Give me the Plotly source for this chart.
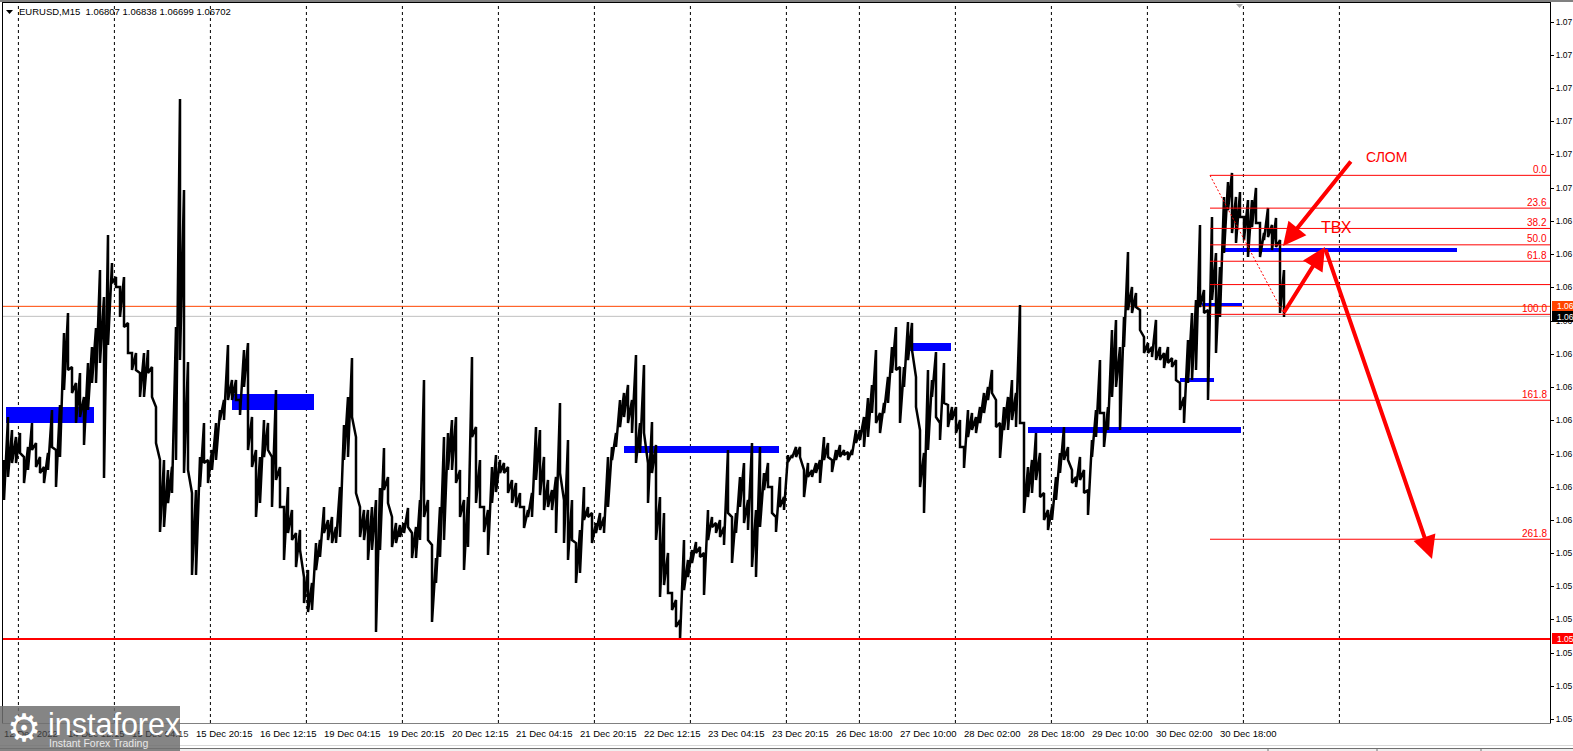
import plotly.graph_objects as go

# ---------- data: 15-minute EURUSD, points above 1.05000, one high/low pair per 4 bars ----------
bars = list(range(4, 1285, 4))
high_pts = [1267,1396,1357,1336,1348,1276,1306,1378,1318,1276,1246,1288,1417,1297,1432,1648,1708,1546,1498,1528,
1456,1558,1606,1663,1837,1756,1942,1858,1816,1786,1816,1678,1588,1588,1528,1588,1597,1546,1426,1267,
1267,1237,1246,1666,2350,2077,1561,1168,1177,1276,1378,1267,1297,1378,1417,1447,1612,1507,1507,1447,
1597,1618,1396,1297,1276,1387,1378,1276,1477,1246,1126,1186,1117,1048,1057,916,937,898,1018,1027,
1126,1087,1096,1066,1186,1372,1456,1573,1336,1126,1117,1117,1126,1147,1183,1303,1216,1096,1078,1072,
1078,1123,1048,1066,1147,1507,1147,1012,973,1126,1336,1348,1387,1396,1237,1147,1156,1576,1366,1267,
1126,1117,1246,1282,1267,1258,1246,1207,1198,1168,1126,1117,1168,1366,1357,1276,1207,1177,1216,1438,
1147,1327,1147,1018,1057,1186,1126,1108,1078,1108,1096,1276,1306,1348,1447,1468,1492,1447,1582,1378,
1552,1258,1381,1312,1156,1108,988,868,847,787,1027,967,997,1021,1006,988,1117,1096,1078,1087,
1066,1297,1096,1108,1216,1258,1147,1318,1117,1306,1228,1258,1186,1096,1216,1156,1282,1282,1306,1306,
1237,1258,1237,1258,1267,1336,1318,1267,1297,1312,1297,1291,1297,1357,1357,1396,1453,1492,1597,1408,
1438,1516,1606,1666,1546,1546,1681,1678,1516,1357,1288,1537,1507,1591,1378,1558,1432,1426,1426,1387,
1306,1417,1408,1396,1426,1468,1486,1537,1447,1378,1426,1456,1507,1468,1732,1378,1246,1267,1348,1288,
1168,1117,1126,1216,1288,1366,1306,1237,1216,1276,1237,1177,1327,1417,1567,1408,1426,1657,1687,1606,
1696,1891,1786,1768,1717,1636,1618,1606,1687,1606,1588,1606,1573,1567,1498,1456,1627,1708,1747,1972,
1777,1717,1996,1888,1846,2056,2101,2128,2056,2071,1996,2047,2047,2083,1978,1948,2023,1972,1993,1927,1837]
low_pts = [1147,1216,1258,1258,1288,1198,1237,1297,1246,1228,1198,1237,1306,1186,1276,1477,1537,1468,1378,1396,
1312,1417,1498,1498,1558,1213,1612,1798,1786,1696,1666,1588,1537,1537,1456,1456,1528,1456,1318,1051,
1066,1138,1168,1267,1567,1228,1237,922,922,1186,1258,1198,1237,1267,1387,1387,1447,1447,1447,1402,
1486,1297,1246,1096,1138,1276,1297,1126,1207,1126,967,1048,1027,946,997,838,811,817,937,976,
1048,1027,1018,1018,1036,1267,1276,1396,1168,1036,1027,967,997,751,997,1177,1138,1006,1018,1036,
1048,1066,973,973,1027,1096,1027,781,898,976,1027,1237,1237,1198,1096,937,1006,1336,1138,1126,
1051,982,1138,1171,1228,1228,1168,1138,1126,1126,1063,1096,1096,1207,1162,1117,1126,1117,1048,1228,
1018,967,1027,898,928,1087,1096,1018,1048,1057,1048,1126,1267,1306,1366,1396,1378,1348,1258,1288,
1348,1138,1228,1027,856,892,868,817,766,727,877,916,958,988,976,862,1027,1066,1048,1036,
1012,1108,958,1048,1126,1078,1057,946,916,1066,1177,1186,1108,1051,1126,1117,1261,1273,1276,1276,
1156,1216,1216,1228,1198,1267,1276,1231,1267,1276,1282,1267,1282,1318,1327,1306,1336,1408,1378,1348,
1408,1438,1528,1537,1378,1486,1567,1597,1426,1186,1108,1297,1456,1396,1327,1438,1366,1387,1348,1306,
1243,1336,1357,1348,1378,1408,1447,1468,1366,1273,1357,1357,1387,1366,1378,1108,1156,1168,1207,1156,
1087,1057,1087,1147,1228,1267,1267,1198,1186,1207,1168,1102,1276,1336,1408,1306,1357,1456,1486,1357,
1606,1717,1708,1726,1657,1588,1588,1576,1567,1567,1543,1558,1546,1507,1417,1378,1498,1507,1537,1726,
1708,1447,1747,1588,1696,1888,2017,1948,1918,1996,1927,1876,1966,1978,1876,1927,1936,1897,1906,1708,1696]

title_text = "EURUSD,M15  1.06807 1.06838 1.06699 1.06702"
grid_bars = [18.4, 114.4, 210.4, 306.4, 402.4, 498.4, 594.4, 690.4, 786.4, 859.4, 955.4, 1051.4, 1147.4, 1243.4, 1339.4]
time_bars = [3, 67, 131, 195, 259, 323, 387, 451, 515, 579, 643, 707, 771, 835, 899, 963, 1027, 1091, 1155, 1219]
time_labels = ["12 Dec 2022", "14 Dec 12:15", "15 Dec 04:15", "15 Dec 20:15", "16 Dec 12:15", "19 Dec 04:15",
               "19 Dec 20:15", "20 Dec 12:15", "21 Dec 04:15", "21 Dec 20:15", "22 Dec 12:15", "23 Dec 04:15",
               "23 Dec 20:15", "26 Dec 18:00", "27 Dec 10:00", "28 Dec 02:00", "28 Dec 18:00", "29 Dec 10:00",
               "30 Dec 02:00", "30 Dec 18:00"]
price_ticks = [1.05490,1.05589,1.05688,1.05790,1.05889,1.05988,1.06087,1.06186,1.06285,1.06387,1.06486,
               1.06585,1.06684,1.06786,1.06885,1.06984,1.07083,1.07185,1.07284,1.07383,1.07482,1.07581]
price_labels = ["1.05"]*6 + ["1.06"]*10 + ["1.07"]*6

ask_price = 1.06728
bid_price = 1.06698
support_price = 1.05730
fib_high, fib_low = 1.07121, 1.06704
fib_start_bar, fib_end_bar = 1210, 1284
fib_levels = [0.0, 23.6, 38.2, 50.0, 61.8, 78.6, 100.0, 161.8, 261.8]
fib_shown = ["0.0", "23.6", "38.2", "50.0", "61.8", "", "100.0", "161.8", "261.8"]

zone_from = [6, 232, 624, 909, 1028, 1180, 1202, 1222]
zone_to = [94, 314, 779, 951, 1241, 1214, 1242, 1457]
zone_top = [1.06426, 1.06465, 1.06309, 1.06618, 1.06366, 1.06513, 1.06738, 1.06903]
zone_bottom = [1.06378, 1.06417, 1.06288, 1.06594, 1.06348, 1.06501, 1.06729, 1.06891]

arrow_from_bar = [1352, 1283, 1325]
arrow_from_price = [1.07167, 1.06705, 1.06903]
arrow_to_bar = [1283, 1325, 1432]
arrow_to_price = [1.06909, 1.06906, 1.05970]

# ---------- figure geometry ----------
W, H = 1573, 751
L, R, T, B = 3, 1550, 3, 723
FONT = "Liberation Sans, sans-serif"
RED = "#ff0000"

def px(x):
    return (x - L) / (R - L)

def py(y):
    return (B - y) / (B - T)

def box(x0, y0, x1, y1, fill, layer="above", opacity=1):
    return dict(type="rect", xref="paper", yref="paper", x0=px(x0), x1=px(x1), y0=py(y0), y1=py(y1),
                fillcolor=fill, line_width=0, layer=layer, opacity=opacity)

def rule(x0, y0, x1, y1, color, width=1):
    return dict(type="line", xref="paper", yref="paper", x0=px(x0), x1=px(x1), y0=py(y0), y1=py(y1),
                line=dict(color=color, width=width), layer="above")

def label(x, y, text, size=9.5, color="black", anchor="left", family=FONT, xref="paper"):
    return dict(x=px(x) if xref == "paper" else x, y=py(y), xref=xref, yref="paper", text=text, showarrow=False,
                xanchor=anchor, yanchor="middle", font=dict(size=size, color=color, family=family),
                bgcolor="rgba(0,0,0,0)", borderpad=0)

xs, ys = [], []
for b, h, l in zip(bars, high_pts, low_pts):
    xs += [b, b]
    ys += [1.05 + h / 1e5, 1.05 + l / 1e5]

fig = go.Figure(go.Scatter(x=xs, y=ys, mode="lines", line=dict(color="black", width=2.5),
                           hoverinfo="skip", showlegend=False))

shapes, annotations = [], []

for g in grid_bars:
    shapes.append(dict(type="line", x0=g, x1=g, yref="paper", y0=0, y1=1, layer="below",
                       line=dict(color="black", width=1, dash="3px,3px")))
for a, b, t, u in zip(zone_from, zone_to, zone_top, zone_bottom):
    shapes.append(dict(type="rect", x0=a, x1=b, y0=u, y1=t, fillcolor="#0000ff", line_width=0, layer="below"))

shapes.append(dict(type="line", xref="paper", x0=0, x1=1, y0=ask_price, y1=ask_price, layer="below",
                   line=dict(color="#ff4500", width=1)))
shapes.append(dict(type="line", xref="paper", x0=0, x1=1, y0=bid_price, y1=bid_price, layer="below",
                   line=dict(color="#c0c0c0", width=1)))
shapes.append(dict(type="line", xref="paper", x0=0, x1=1, y0=support_price, y1=support_price, layer="above",
                   line=dict(color=RED, width=2)))

# Fibonacci retracement
for lev, txt in zip(fib_levels, fib_shown):
    p = fib_high - (fib_high - fib_low) * lev / 100
    shapes.append(dict(type="line", x0=fib_start_bar, x1=R, y0=p, y1=p, layer="above",
                       line=dict(color=RED, width=1)))
    if txt:
        annotations.append(dict(x=1549, y=p, yshift=6, text=txt, showarrow=False, xanchor="right", yanchor="middle",
                                font=dict(size=10, color=RED, family=FONT)))
shapes.append(dict(type="line", x0=fib_start_bar, x1=fib_end_bar, y0=fib_high, y1=fib_low, layer="above",
                   line=dict(color=RED, width=1, dash="2px,2px")))

# Window chrome
shapes.append(box(0, 0, W, 2, "#808080"))
shapes.append(box(0, 723.5, W, 745, "white"))
shapes.append(box(0, 745, W, 746, "#d8d8d8"))
shapes.append(box(0, 746, W, 748, "white"))
shapes.append(box(0, 748, W, 749, "#707070"))
shapes.append(box(0, 749, W, H, "#f0f0f0"))
for tab in (1268, 1377, 1481):
    shapes.append(rule(tab, 748, tab, H, "#707070"))
shapes.append(dict(type="path", xref="paper", yref="paper",
                   path=f"M {px(1236)} {py(4)} L {px(1243)} {py(4)} L {px(1239.5)} {py(8)} Z",
                   fillcolor="#a8a8a8", line_width=0, layer="above"))
shapes.append(dict(type="path", xref="paper", yref="paper",
                   path=f"M {px(6)} {py(10)} L {px(13)} {py(10)} L {px(9.5)} {py(14)} Z",
                   fillcolor="black", line_width=0, layer="above"))

# x axis labels (left-aligned at their ticks)
for i, (b, t) in enumerate(zip(time_bars, time_labels)):
    annotations.append(label(b, 733.5, t, color="#3a3a3a" if i < 3 else "black", xref="x"))

annotations.append(label(18, 11.7, title_text))

# Price boxes on the right axis
shapes.append(box(1552, 301, W, 311, "#ff4500"))
annotations.append(label(1556, 306, "1.06", size=8.5, color="white"))
shapes.append(box(1552, 311, W, 322, "black"))
annotations.append(label(1556, 316.5, "1.06", size=8.5, color="white"))
shapes.append(box(1552, 633, W, 644, RED))
annotations.append(label(1556, 638.5, "1.05", size=8.5, color="white"))

# Hand-drawn arrows and notes
for x0, y0, x1, y1 in zip(arrow_from_bar, arrow_from_price, arrow_to_bar, arrow_to_price):
    annotations.append(dict(x=x1, y=y1, ax=x0, ay=y0, xref="x", yref="y", axref="x", ayref="y", text="",
                            showarrow=True, arrowhead=2, arrowsize=1.15, arrowwidth=4, arrowcolor=RED))
annotations.append(label(1386, 157, "СЛОМ", size=14, color=RED, anchor="center", family="Liberation Sans"))
annotations.append(label(1336, 227, "ТВХ", size=16, color=RED, anchor="center", family="Liberation Sans"))

# Watermark
shapes.append(box(0, 706, 180, H, "#707070", opacity=0.85))
annotations.append(label(24, 728, "⚙", size=38, color="white", anchor="center", family="DejaVu Sans"))
annotations.append(label(47, 723.5, "instaforex", size=30.5, color="white", family="Liberation Sans"))
annotations.append(label(48, 743, "Instant Forex Trading", size=10.5, color="#e8e8e8", family="Liberation Sans"))

fig.update_layout(
    width=W, height=H, autosize=False,
    margin=dict(l=L, r=W - R, t=T, b=H - B, pad=0),
    paper_bgcolor="white", plot_bgcolor="white", showlegend=False,
    font=dict(family=FONT, size=10, color="black"),
    xaxis=dict(range=[L, R], tickmode="array", tickvals=time_bars, ticktext=[""] * len(time_bars), ticks="outside",
               ticklen=4, tickcolor="black", showgrid=False, zeroline=False, showline=True, linecolor="black",
               linewidth=1, mirror=True, automargin=False),
    yaxis=dict(range=[1.07647 - 0.00003 * B, 1.07647 - 0.00003 * T], side="right", tickmode="array",
               tickvals=price_ticks, ticktext=price_labels, ticks="outside", ticklen=3, tickcolor="black",
               tickfont=dict(size=8.5, color="black", family=FONT), showgrid=False, zeroline=False,
               showline=True, linecolor="black", linewidth=1, mirror=True, automargin=False),
    shapes=shapes, annotations=annotations,
)
fig.write_html("out.html", config={"displayModeBar": False},
               post_script="document.body.style.margin='0';document.body.style.overflow='hidden';")
